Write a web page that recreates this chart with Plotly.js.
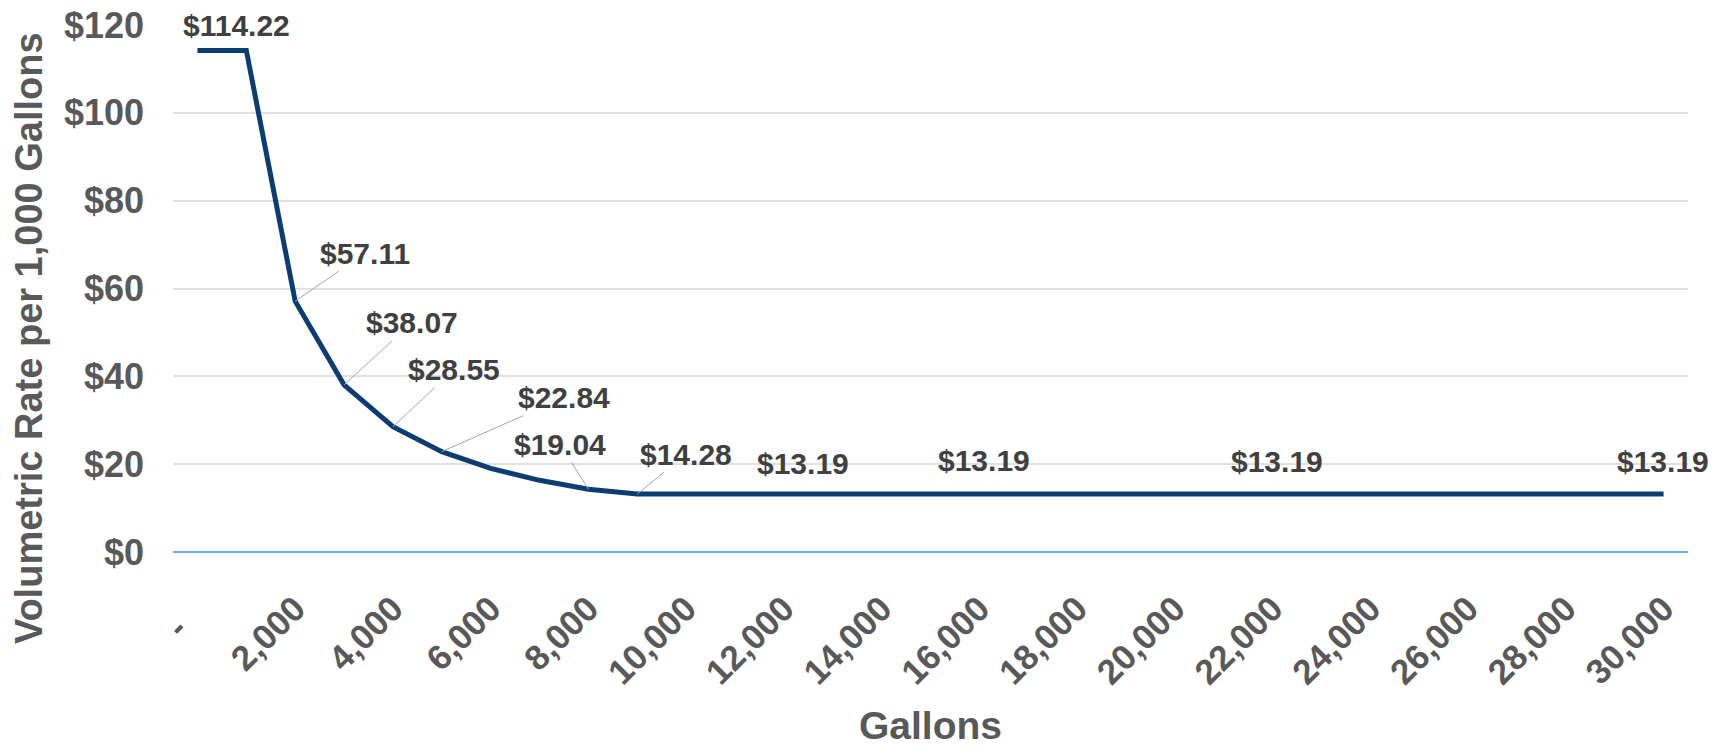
<!DOCTYPE html>
<html><head><meta charset="utf-8">
<script src="https://cdn.plot.ly/plotly-3.0.1.min.js"></script>
<style>html,body{margin:0;padding:0;background:#fff}#chart{width:1723px;height:753px}</style>
</head><body><div id="chart"></div>
<script>
const gallons = [0,1000,2000,3000,4000,5000,6000,7000,8000,9000,10000,11000,12000,13000,14000,15000,16000,17000,18000,19000,20000,21000,22000,23000,24000,25000,26000,27000,28000,29000,30000];
const rate = [114.22,114.22,57.11,38.07,28.55,22.84,19.04,16.32,14.28,13.19,13.19,13.19,13.19,13.19,13.19,13.19,13.19,13.19,13.19,13.19,13.19,13.19,13.19,13.19,13.19,13.19,13.19,13.19,13.19,13.19,13.19];
const tickValues = [0,2000,4000,6000,8000,10000,12000,14000,16000,18000,20000,22000,24000,26000,28000,30000];
const tickLabels = ["-\u00a0\u00a0\u00a0","2,000","4,000","6,000","8,000","10,000","12,000","14,000","16,000","18,000","20,000","22,000","24,000","26,000","28,000","30,000"];
const labelPoints = [0,2000,3000,4000,5000,8000,9000,12000,16000,22000,30000];
const labelTexts = ["$114.22","$57.11","$38.07","$28.55","$22.84","$19.04","$14.28","$13.19","$13.19","$13.19","$13.19"];
const yTitle = "Volumetric Rate per 1,000 Gallons";
const xTitle = "Gallons";

// label placement (pixel offsets of text centre from the point, leader line on/off)
const place = [[39,-25,false],[70,-48,true],[68,-62,true],[61,-57,true],[122,-54,true],[-28,-45,true],[49,-40,true],[19,-31,false],[5,-34,false],[4,-33,false],[-1,-33,false]];

const FONT = "Liberation Sans, Arial, sans-serif";
const annotations = labelPoints.map((gx, i) => {
  const yv = rate[gallons.indexOf(gx)];
  const [dx, dy, arrow] = place[i];
  const a = {x: gx, y: yv, xref: 'x', yref: 'y', text: labelTexts[i],
    font: {family: FONT, size: 30, color: '#404040', weight: 'bold'}};
  if (arrow) {
    Object.assign(a, {showarrow: true, ax: dx, ay: dy, arrowhead: 0, arrowwidth: 1, arrowcolor: '#a6a6a6', standoff: 0, startstandoff: 0});
  } else {
    Object.assign(a, {showarrow: false, xshift: dx, yshift: -dy});
  }
  return a;
});
annotations.push({xref: 'paper', yref: 'paper', x: 0.5, y: -0.33, xanchor: 'center', yanchor: 'middle', showarrow: false, text: xTitle,
  font: {family: FONT, size: 39, color: '#595959', weight: 'bold'}});
annotations.push({xref: 'paper', yref: 'paper', x: -0.095, y: 0.406, xanchor: 'center', yanchor: 'middle', showarrow: false, text: yTitle, textangle: -90,
  font: {family: FONT, size: 38, color: '#595959', weight: 'bold'}});

const trace = {x: gallons, y: rate, type: 'scatter', mode: 'lines',
  line: {color: '#0b3d73', width: 5}, hoverinfo: 'skip', cliponaxis: false};

const layout = {
  width: 1723, height: 753,
  margin: {l: 173, r: 35, t: 25, b: 201},
  paper_bgcolor: '#ffffff', plot_bgcolor: '#ffffff',
  showlegend: false,
  xaxis: {range: [-500, 30500], tickmode: 'array', tickvals: tickValues, ticktext: tickLabels,
    tickangle: -45, tickfont: {family: FONT, size: 35, color: '#595959', weight: 'bold'},
    showgrid: false, zeroline: false, showline: false, ticks: '', ticklabelstandoff: 28},
  yaxis: {range: [0, 120], dtick: 20, tick0: 0, tickprefix: '$',
    tickfont: {family: FONT, size: 36, color: '#595959', weight: 'bold'},
    showgrid: true, gridcolor: '#e0e0e0', gridwidth: 2,
    zeroline: true, zerolinecolor: '#6aaef0', zerolinewidth: 2,
    showline: false, ticks: '', ticklabelstandoff: 28},
  annotations: annotations
};
Plotly.newPlot('chart', [trace], layout, {displayModeBar: false, staticPlot: true});
</script></body></html>
